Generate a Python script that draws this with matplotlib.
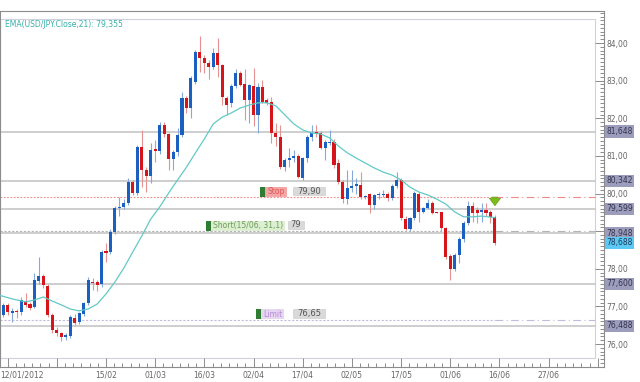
import matplotlib
matplotlib.use('Agg')
import matplotlib.pyplot as plt
from matplotlib.patches import Rectangle
from matplotlib.ticker import FixedLocator
import numpy as np

# daily USD/JPY candles, 12/01/2012 .. 15/06/2012 (business days)
opens = [76.90, 76.78, 77.03, 76.83, 76.87, 76.84, 77.14, 77.06, 76.99, 77.68,
         77.80, 77.55, 76.77, 76.37, 76.29, 76.19, 76.21, 76.69, 76.58, 76.80,
         77.09, 77.66, 77.64, 77.60, 78.47, 78.44, 78.97, 79.61, 79.64, 79.74,
         80.31, 80.01, 81.24, 80.62, 80.46, 81.18, 81.13, 81.82, 81.58, 80.92,
         81.10, 81.55, 82.54, 82.27, 82.96, 83.76, 83.60, 83.47, 83.36, 83.73,
         83.42, 82.54, 82.41, 82.86, 83.20, 82.91, 82.49, 82.86, 82.09, 82.83,
         82.49, 82.43, 81.61, 81.50, 80.70, 80.89, 80.94, 80.99, 80.42, 80.94,
         81.50, 81.63, 81.61, 81.21, 81.35, 81.37, 80.80, 80.31, 79.85, 80.15,
         80.20, 80.23, 79.91, 79.98, 79.69, 79.95, 79.96, 80.00, 79.88, 80.20,
         80.36, 79.32, 79.06, 79.35, 79.99, 79.51, 79.61, 79.75, 79.50, 79.50,
         79.08, 78.34, 77.99, 78.37, 78.79, 79.22, 79.67, 79.56, 79.51, 79.56,
         79.51, 79.38]
highs = [76.96, 77.08, 77.08, 76.95, 76.93, 77.25, 77.36, 77.12, 77.89, 78.31,
         77.85, 77.60, 76.82, 76.44, 76.32, 76.28, 76.76, 76.80, 76.86, 77.12,
         77.78, 77.75, 77.70, 78.50, 78.69, 79.05, 79.66, 79.90, 79.85, 80.41,
         80.35, 81.30, 81.69, 80.70, 81.34, 81.42, 81.90, 81.90, 81.62, 81.15,
         81.74, 82.70, 82.60, 83.12, 83.81, 84.19, 83.68, 83.55, 83.87, 84.13,
         83.45, 82.58, 82.90, 83.31, 83.25, 83.31, 82.92, 83.34, 82.95, 83.02,
         82.55, 82.56, 81.87, 81.82, 80.95, 81.20, 81.15, 81.05, 80.98, 81.55,
         81.82, 81.82, 81.66, 81.42, 81.69, 81.45, 80.92, 80.36, 80.62, 80.62,
         80.40, 80.57, 79.95, 80.02, 80.00, 80.05, 80.10, 80.05, 80.25, 80.57,
         80.40, 79.40, 79.38, 80.07, 80.05, 79.65, 79.85, 79.80, 79.52, 79.52,
         79.10, 78.40, 78.42, 78.85, 79.28, 79.80, 79.78, 79.65, 79.75, 79.76,
         79.55, 79.43]
lows = [76.72, 76.72, 76.78, 76.58, 76.68, 76.78, 76.98, 76.90, 76.95, 77.60,
        77.49, 76.72, 76.30, 76.22, 76.08, 76.10, 76.17, 76.50, 76.52, 76.75,
        77.05, 77.44, 77.42, 77.52, 78.18, 78.38, 78.92, 79.40, 79.58, 79.70,
        79.95, 79.95, 80.17, 80.04, 80.27, 80.84, 81.05, 81.50, 80.62, 80.62,
        81.00, 81.50, 82.15, 82.00, 82.90, 83.23, 83.20, 83.04, 83.30, 83.10,
        82.35, 82.09, 82.30, 82.80, 82.85, 81.95, 81.87, 81.80, 81.61, 82.40,
        82.35, 81.34, 81.26, 80.65, 80.60, 80.70, 80.85, 80.40, 80.35, 80.85,
        81.40, 81.50, 81.18, 80.89, 81.30, 80.68, 80.25, 79.75, 79.73, 80.05,
        80.00, 79.85, 79.85, 79.48, 79.60, 79.85, 79.90, 79.80, 79.82, 80.15,
        79.30, 79.02, 79.00, 79.30, 79.24, 79.48, 79.58, 79.45, 79.47, 79.00,
        78.25, 77.70, 77.95, 78.15, 78.72, 79.15, 79.24, 79.22, 79.25, 79.40,
        79.22, 78.62]
closes = [76.80, 77.03, 76.84, 76.87, 76.85, 77.17, 77.05, 76.97, 77.70, 77.80,
          77.57, 76.77, 76.37, 76.29, 76.19, 76.23, 76.72, 76.56, 76.82, 77.09,
          77.70, 77.62, 77.57, 78.44, 78.42, 78.97, 79.61, 79.64, 79.75, 80.31,
          80.01, 81.24, 80.62, 80.46, 81.16, 81.13, 81.82, 81.58, 80.92, 81.10,
          81.55, 82.54, 82.27, 83.07, 83.76, 83.60, 83.47, 83.36, 83.73, 83.42,
          82.56, 82.35, 82.86, 83.20, 82.88, 82.49, 82.88, 82.09, 82.83, 82.43,
          82.41, 81.61, 81.50, 80.70, 80.89, 80.94, 81.00, 80.44, 80.94, 81.50,
          81.61, 81.58, 81.21, 81.37, 81.38, 80.76, 80.31, 79.85, 80.15, 80.20,
          80.25, 79.91, 79.93, 79.69, 79.96, 79.98, 80.00, 79.88, 80.20, 80.36,
          79.35, 79.06, 79.35, 80.01, 79.51, 79.61, 79.75, 79.48, 79.49, 79.08,
          78.31, 77.99, 78.37, 78.79, 79.22, 79.67, 79.48, 79.48, 79.56, 79.49,
          79.38, 78.69]

# EMA(21)
ema_idx = [0, 3, 6, 8, 10, 12, 14, 16, 18, 20, 22, 24, 26, 28, 30, 32, 34, 36,
           38, 40, 42, 44, 46, 48, 50, 52, 54, 56, 58, 60, 62, 64, 66, 68, 70,
           72, 74, 76, 78, 80, 82, 84, 86, 88, 90, 92, 94, 96, 98, 100, 102,
           104, 106, 108, 111]
ema_val = [77.30, 77.20, 77.12, 77.17, 77.25, 77.14, 77.04, 76.93, 76.88, 76.93,
           77.06, 77.33, 77.65, 78.02, 78.45, 78.87, 79.32, 79.64, 80.01, 80.36,
           80.70, 81.08, 81.45, 81.85, 82.03, 82.14, 82.27, 82.35, 82.41, 82.41,
           82.33, 82.09, 81.85, 81.69, 81.61, 81.58, 81.48, 81.26, 81.08, 80.94,
           80.81, 80.68, 80.57, 80.49, 80.36, 80.17, 80.04, 79.96, 79.85, 79.72,
           79.51, 79.38, 79.38, 79.40, 79.36]

levels = [81.648, 80.342, 79.599, 78.948, 77.600, 76.488]
level_labels = ['81,648', '80,342', '79,599', '78,948', '77,600', '76,488']
last_price = 78.688
stop_level, entry_level, limit_level = 79.90, 79.00, 76.65

date_ticks = [2, 13, 24, 35, 46, 57, 68, 79, 90, 101, 112, 123, 134]
date_labels = ['', '', '15/02', '01/03', '16/03', '02/04', '17/04', '02/05',
               '17/05', '01/06', '16/06', '27/06', '']
price_ticks = [76, 77, 78, 79, 80, 81, 82, 83, 84]

FS = 5.5
frame = '#8c8c8c'

fig = plt.figure(figsize=(6.4, 3.82), dpi=100)
ax = fig.add_axes([0, 15 / 382, 604 / 640, 356 / 382])
ax.set_xlim(0.29, 135.4)
ax.set_ylim(75.389, 84.851)

x_in = 133.4   # right edge of the inner plotting box, in bar units

# candles
o = np.array(opens); h = np.array(highs); l = np.array(lows); c = np.array(closes)
idx = np.arange(len(o))
up = c >= o
body_col = np.where(up, '#1b5fc1', '#d7141a')
wick_col = np.where(up, '#86a9dc', '#e59292')
ax.vlines(idx, l, h, colors=wick_col, lw=0.8, zorder=3)
ax.bar(idx, np.maximum(np.abs(c - o), 0.025), width=0.68,
       bottom=np.minimum(o, c), color=body_col, linewidth=0, zorder=4)

ax.plot(ema_idx, ema_val, color='#62c9c6', lw=0.9, zorder=5)

# support / resistance lines
for lv in levels:
    ax.plot([0.29, x_in], [lv, lv], color='#c6c6c6', lw=1.2, zorder=2)

# order lines: dotted up to last bar, dash-dot afterwards
last = len(o) - 1
for lv, col, ls in [(stop_level, '#f08a8a', (0, (1.5, 1.5))),
                    (entry_level, '#b4b4b4', (0, (2, 1.5))),
                    (limit_level, '#c3bbdc', (0, (2, 1.5)))]:
    ax.plot([0.29, last], [lv, lv], color=col, lw=0.8, ls=ls, zorder=2)
    ax.plot([last, x_in], [lv, lv], color=col, lw=0.8, ls=(0, (7, 3, 1, 3)), zorder=2)

# order tags
def tag(x0, lv, text, fc, tc, w, val, vx):
    ax.add_patch(Rectangle((x0, lv + 0.01), 1.1, 0.27, fc='#2f7d32', ec='none', zorder=6))
    ax.add_patch(Rectangle((x0 + 1.1, lv + 0.01), w, 0.27, fc=fc, ec='none', zorder=6))
    ax.text(x0 + 1.1 + w / 2, lv + 0.145, text, color=tc, fontsize=FS,
            ha='center', va='center', zorder=7)
    vw = 1.0 + 1.25 * len(val)
    ax.add_patch(Rectangle((vx, lv + 0.05), vw, 0.23, fc='#d9d9d9', ec='#c8c8c8',
                           lw=0.4, zorder=6))
    ax.text(vx + vw / 2, lv + 0.165, val, color='#555555', fontsize=FS + 0.5,
            ha='center', va='center', zorder=7)

tag(58.5, stop_level, 'Stop', '#f4a6a6', '#de5757', 5.0, '79,90', 65.8)
tag(46.4, entry_level, 'Short(15/06, 31,1)', '#dcefd0', '#6f9b5e', 16.5, '79', 64.7)
tag(57.6, limit_level, 'Limit', '#e6d6f2', '#b58bd6', 5.1, '76,65', 65.8)

# sell arrow above last bar
ax.annotate('', xy=(last, 79.60), xytext=(last, 79.98),
            arrowprops=dict(arrowstyle='simple,head_length=0.6,head_width=0.9,tail_width=0.45',
                            fc='#7cbb1a', ec='#5c9a12', lw=0.4, mutation_scale=9),
            zorder=8)

# inner plot box
ax.add_patch(Rectangle((0, 9 / 356), 595 / 604, 339 / 356, transform=ax.transAxes,
                       fill=False, ec='#cfd0e0', lw=0.8, zorder=1))

for s in ax.spines.values():
    s.set_color(frame)
    s.set_linewidth(0.8)

ax.xaxis.set_major_locator(FixedLocator(date_ticks))
ax.set_xticklabels(date_labels)
ax.xaxis.set_minor_locator(FixedLocator(np.arange(2, 136, 11 / 6)))
ax.yaxis.tick_right()
ax.yaxis.set_major_locator(FixedLocator(price_ticks))
ax.set_yticklabels(['' if v == 79 else f'{v:.2f}'.replace('.', ',') for v in price_ticks])
ax.yaxis.set_minor_locator(FixedLocator(np.arange(75.4, 84.85, 0.1)))
ax.tick_params(which='both', direction='in', color=frame, width=0.7,
               labelsize=FS, labelcolor='#666666')
ax.tick_params(which='major', length=6.5)
ax.tick_params(which='minor', length=2.8)
ax.tick_params(axis='x', pad=2.5)
ax.tick_params(axis='y', pad=1.5)

ax.annotate('12/01/2012', xy=(0, 0), xycoords='axes fraction', xytext=(0.5, -2.5),
            textcoords='offset points', ha='left', va='top', fontsize=FS, color='#666666')

# price boxes on the right scale
for lv, lab in zip(levels, level_labels):
    ax.annotate(lab, xy=(1, lv), xycoords=('axes fraction', 'data'), xytext=(1.5, 0),
                textcoords='offset points', ha='left', va='center', fontsize=FS,
                color='#33334d', bbox=dict(boxstyle='square,pad=0.2', fc='#9c9dbd', ec='none'))
ax.annotate(f'{last_price:.3f}'.replace('.', ','), xy=(1, last_price),
            xycoords=('axes fraction', 'data'), xytext=(1.5, 0), textcoords='offset points',
            ha='left', va='center', fontsize=FS, color='#1d3a5a',
            bbox=dict(boxstyle='square,pad=0.2', fc='#5cc9f5', ec='none'))

ax.annotate('EMA(USD/JPY.Close,21): 79,355', xy=(0, 1), xycoords='axes fraction',
            xytext=(3.6, -9.4), textcoords='offset points', ha='left', va='center',
            fontsize=FS, color='#35b0aa')

fig.savefig('out.png', dpi=100)
